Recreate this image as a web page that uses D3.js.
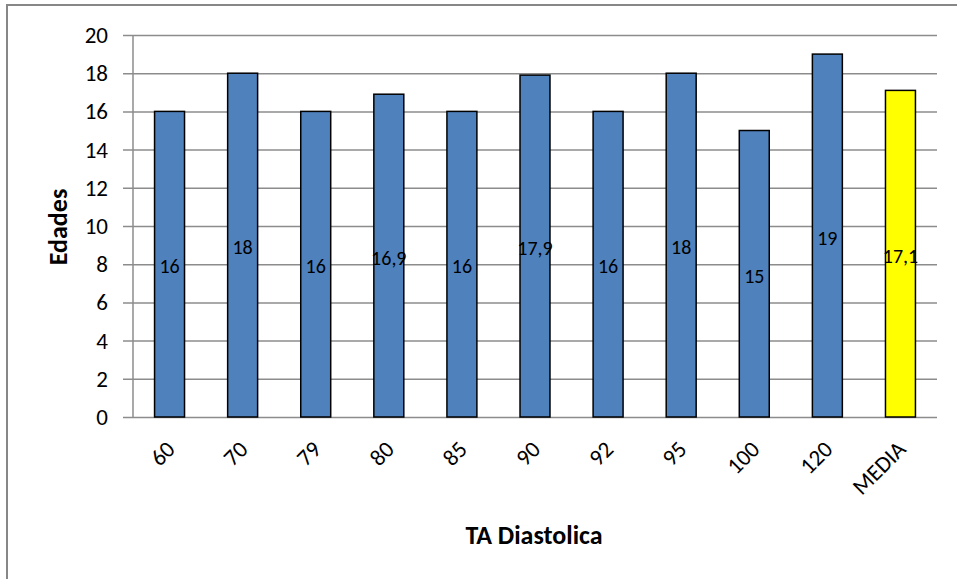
<!DOCTYPE html>
<html>
<head>
<meta charset="utf-8">
<script src="https://cdn.jsdelivr.net/npm/d3@7"></script>
<style>
  html, body { margin: 0; padding: 0; background: #fff; }
  svg { display: block; font-family: Carlito, Lato, "Open Sans", sans-serif; }
</style>
</head>
<body>
<svg id="chart" width="957" height="579"></svg>
<script>
// Age by diastolic blood pressure, with the overall mean
const categories = ["60", "70", "79", "80", "85", "90", "92", "95", "100", "120", "MEDIA"];
const values = [16, 18, 16, 16.9, 16, 17.9, 16, 18, 15, 19, 17.1];
const valueLabels = ["16", "18", "16", "16,9", "16", "17,9", "16", "18", "15", "19", "17,1"];
const yTicks = [0, 2, 4, 6, 8, 10, 12, 14, 16, 18, 20];
const yTitle = "Edades";
const xTitle = "TA Diastolica";

const svg = d3.select("#chart");
const plot = { left: 133, right: 937, top: 35, bottom: 417 };

// outer chart frame
svg.append("rect")
  .attr("x", 7).attr("y", 5).attr("width", 960).attr("height", 600)
  .attr("fill", "none").attr("stroke", "#878787").attr("stroke-width", 2);

const x = d3.scaleBand().domain(categories).range([plot.left, plot.right]).paddingInner(0.59).paddingOuter(0.295);
const y = d3.scaleLinear().domain([0, 20]).range([plot.bottom, plot.top]);

// horizontal gridlines with ticks extending left of the axis
const yAxis = d3.axisLeft(y).tickValues(yTicks).tickSize(plot.right - plot.left + 10).tickPadding(0).tickFormat("");
const gy = svg.append("g").attr("transform", `translate(${plot.right},0)`).call(yAxis);
gy.select(".domain").remove();
gy.selectAll(".tick line").attr("stroke", "#8c8c8c").attr("stroke-width", 1.5);

// vertical axis line
svg.append("line")
  .attr("x1", plot.left).attr("x2", plot.left)
  .attr("y1", plot.top).attr("y2", plot.bottom)
  .attr("stroke", "#8c8c8c").attr("stroke-width", 1.5);

// y tick labels
svg.append("g").selectAll("text").data(yTicks).join("text")
  .attr("x", 108).attr("y", d => y(d))
  .attr("dy", "0.35em")
  .attr("text-anchor", "end")
  .attr("font-size", 23).attr("fill", "#000")
  .text(d => d);

// bars
svg.append("g").selectAll("rect").data(categories).join("rect")
  .attr("x", d => x(d))
  .attr("y", (d, i) => y(values[i]))
  .attr("width", x.bandwidth())
  .attr("height", (d, i) => y(0) - y(values[i]))
  .attr("fill", d => d === "MEDIA" ? "#FFFF00" : "#4F81BD")
  .attr("stroke", "#000").attr("stroke-width", 1.5);

// value labels centred in each bar
svg.append("g").selectAll("text").data(categories).join("text")
  .attr("x", d => x(d) + x.bandwidth() / 2)
  .attr("y", (d, i) => (y(values[i]) + y(0)) / 2 + 2)
  .attr("dy", "0.35em")
  .attr("text-anchor", "middle")
  .attr("font-size", 20).attr("fill", "#000")
  .text((d, i) => valueLabels[i]);

// rotated category labels
svg.append("g").selectAll("text").data(categories).join("text")
  .attr("transform", d => `translate(${x(d) + x.bandwidth() / 2 + 1},${plot.bottom + 28}) rotate(-45)`)
  .attr("text-anchor", "end")
  .attr("dy", "0.35em")
  .attr("font-size", 23).attr("fill", "#000")
  .text(d => d);

// axis titles
svg.append("text")
  .attr("transform", `translate(67,227) rotate(-90)`)
  .attr("text-anchor", "middle")
  .attr("font-size", 26).attr("font-weight", "bold")
  .text(yTitle);

svg.append("text")
  .attr("x", 534).attr("y", 544)
  .attr("text-anchor", "middle")
  .attr("font-size", 26).attr("font-weight", "bold")
  .text(xTitle);
</script>
</body>
</html>
